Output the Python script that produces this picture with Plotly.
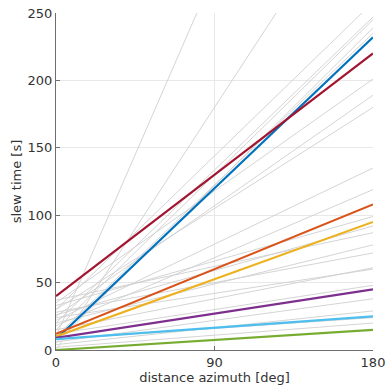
import plotly.graph_objects as go

# distance azimuth endpoints [deg]
x_ends = [0, 180]

# gray background profiles: slew time at 0 deg and at 180 deg [s]
gray_start = [10, 0, 30, 20, 15, 5, 10, 35, 25, 30, 22, 18, 33, 26, 37, 20, 15, 24, 6, 4, 2, 12, 8, 28]
gray_end   = [550, 360, 258, 247, 245, 239, 235, 201, 189, 180, 135, 119, 99, 92, 87, 78, 61, 60, 38, 29, 20, 48, 24, 72]

# highlighted profiles (MATLAB default colour order)
hl_names = ["blue", "orange", "yellow", "purple", "green", "lightblue", "darkred"]
hl_start = [8, 12, 10, 9, 0, 8, 40]
hl_end   = [232, 108, 95, 45, 15, 25, 220]
hl_colors = ["#0072BD", "#D95319", "#EDB120", "#7E2F8E", "#77AC30", "#4DBEEE", "#A2142F"]

fig = go.Figure()
for a, b in zip(gray_start, gray_end):
    fig.add_trace(go.Scatter(x=x_ends, y=[a, b], mode="lines",
                             line=dict(color="#cfcfcf", width=0.9),
                             showlegend=False, hoverinfo="skip"))
for n, a, b, c in zip(hl_names, hl_start, hl_end, hl_colors):
    fig.add_trace(go.Scatter(x=x_ends, y=[a, b], mode="lines", name=n,
                             line=dict(color=c, width=2.2),
                             showlegend=False))

font_main = dict(family="DejaVu Sans", size=13, color="#333333")
axis_common = dict(showgrid=True, gridcolor="#e8e8e8", gridwidth=1,
                   zeroline=False, showline=True, linecolor="#6e6e6e", linewidth=1,
                   ticks="inside", ticklen=4, tickcolor="#6e6e6e",
                   tickfont=font_main, automargin=False, mirror=False,
                   ticklabeloverflow="allow")

fig.update_layout(
    width=386, height=387,
    margin=dict(l=55.5, r=13.3, t=13.3, b=36.7, autoexpand=False),
    paper_bgcolor="white", plot_bgcolor="white",
    xaxis=dict(range=[0, 180], tickvals=[0, 90, 180],
               title=dict(text="distance azimuth [deg]", standoff=4, font=font_main),
               **axis_common),
    yaxis=dict(range=[0, 250], tickvals=[0, 50, 100, 150, 200, 250],
               title=dict(text="slew time [s]", standoff=3, font=font_main),
               **axis_common),
)
# remove the default page margin so the figure fills the window exactly
fig.write_html("out.html",
               config={"displayModeBar": False},
               post_script="document.body.style.margin='0';document.body.style.overflow='hidden';")
